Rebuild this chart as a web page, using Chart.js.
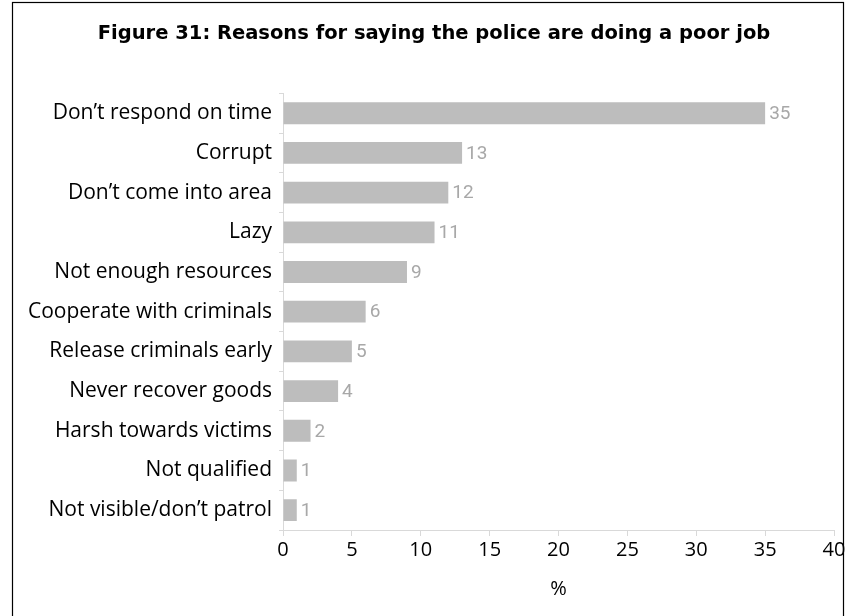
<!DOCTYPE html>
<html lang="en">
<head>
  <meta charset="utf-8">
  <title>Reasons for saying the police are doing a poor job</title>
  <style>
    html, body { margin: 0; padding: 0; background: #fff; }
    #wrap { position: relative; width: 850px; height: 616px; }
  </style>
</head>
<body>
  <div id="wrap"><canvas id="myChart" width="850" height="616"></canvas></div>

  <script src="https://cdn.jsdelivr.net/npm/chart.js@4/dist/chart.umd.min.js"></script>
  <script>
    // reasons and share of respondents (%)
    var reasons = [
      "Don\u2019t respond on time",
      "Corrupt",
      "Don\u2019t come into area",
      "Lazy",
      "Not enough resources",
      "Cooperate with criminals",
      "Release criminals early",
      "Never recover goods",
      "Harsh towards victims",
      "Not qualified",
      "Not visible/don\u2019t patrol"
    ];
    var percent = [35, 13, 12, 11, 9, 6, 5, 4, 2, 1, 1];
    var xTicks = [0, 5, 10, 15, 20, 25, 30, 35, 40];

    var labelFont = "'Open Sans', 'DejaVu Sans', sans-serif";

    // frame around the whole figure
    var framePlugin = {
      id: 'frame',
      beforeDraw: function(chart) {
        var c = chart.ctx;
        c.save();
        c.strokeStyle = '#000';
        c.lineWidth = 1.2;
        c.strokeRect(12.5, 2.5, 831, 700);
        c.restore();
      },
      // let the long category names run into the left padding instead of being clipped
      afterLayout: function(chart) {
        chart.scales.y.left = 0;
      }
    };

    // value printed just right of each bar
    var valuePlugin = {
      id: 'values',
      afterDatasetsDraw: function(chart) {
        var c = chart.ctx;
        var meta = chart.getDatasetMeta(0);
        c.save();
        c.font = "19px Roboto, sans-serif";
        c.fillStyle = '#a8a8a8';
        c.textAlign = 'left';
        c.textBaseline = 'middle';
        meta.data.forEach(function(bar, i) {
          c.fillText(String(percent[i]), bar.x + 4, bar.y + 1);
        });
        c.restore();
      }
    };

    var ctx = document.getElementById("myChart");
    var myChart = new Chart(ctx, {
      type: 'bar',
      data: {
        labels: reasons,
        datasets: [{
          data: percent,
          backgroundColor: '#bdbdbd',
          barPercentage: 0.55,
          categoryPercentage: 1
        }]
      },
      plugins: [framePlugin, valuePlugin],
      options: {
        indexAxis: 'y',
        responsive: false,
        animation: false,
        layout: { padding: { left: 34, right: 16, top: 0, bottom: 0 } },
        plugins: {
          legend: { display: false },
          tooltip: { enabled: false },
          title: {
            display: true,
            text: 'Figure 31: Reasons for saying the police are doing a poor job',
            color: '#000',
            font: { family: "'DejaVu Sans', sans-serif", size: 19.5, weight: 'bold' },
            padding: { top: 22, bottom: 48 }
          }
        },
        scales: {
          x: {
            min: 0,
            max: 40,
            afterBuildTicks: function(scale) {
              scale.ticks = xTicks.map(function(v) { return { value: v }; });
            },
            afterFit: function(scale) { scale.height = 86; },
            grid: { drawOnChartArea: false, color: '#d9d9d9', tickLength: 6 },
            border: { color: '#d9d9d9' },
            ticks: { color: '#000', padding: 2, font: { family: labelFont, size: 20 } },
            title: {
              display: true,
              text: '%',
              color: '#000',
              font: { family: labelFont, size: 20 },
              padding: { top: 0, bottom: 15 }
            }
          },
          y: {
            afterFit: function(scale) { scale.width = 249; },
            grid: { drawOnChartArea: false, color: '#d9d9d9', tickLength: 4, offset: true },
            border: { color: '#d9d9d9' },
            ticks: { color: '#000', padding: 7, font: { family: labelFont, size: 21 } }
          }
        }
      }
    });
  </script>
</body>
</html>
